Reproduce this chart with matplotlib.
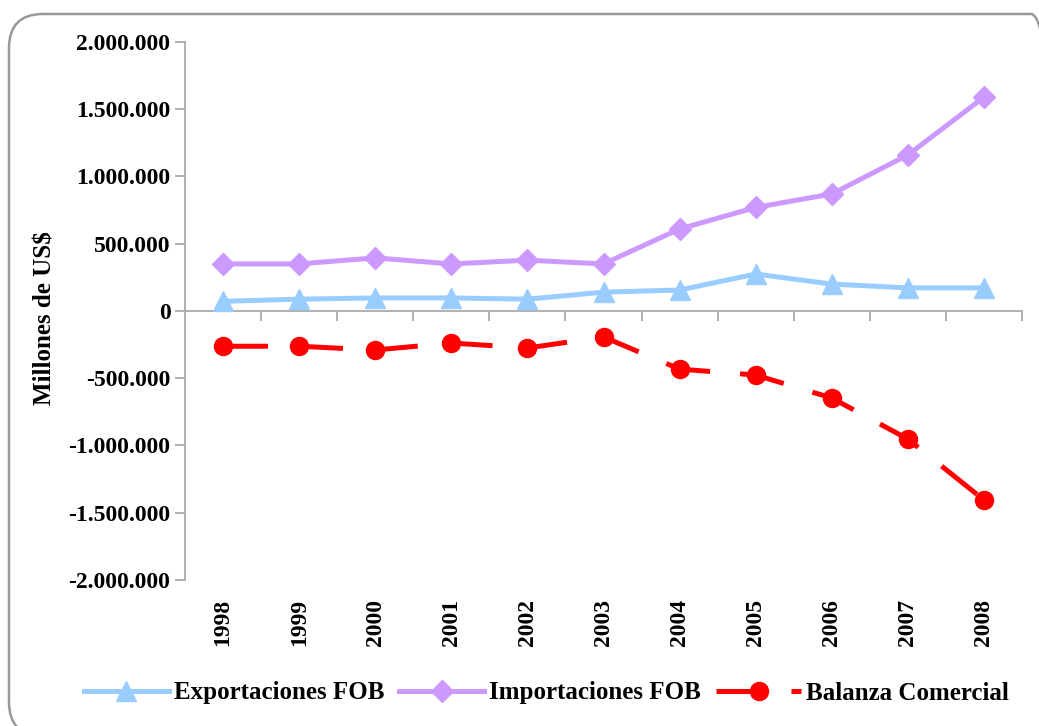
import matplotlib
matplotlib.use("Agg")
import matplotlib.pyplot as plt
import matplotlib.transforms as mtransforms
from matplotlib.patches import FancyBboxPatch
from matplotlib.ticker import FuncFormatter

YEARS = ["1998", "1999", "2000", "2001", "2002", "2003", "2004", "2005", "2006", "2007", "2008"]
EXPORTS = [72000, 88000, 97000, 97000, 88000, 140000, 156000, 275000, 200000, 172000, 172000]
IMPORTS = [350000, 350000, 395000, 350000, 378000, 350000, 610000, 770000, 870000, 1160000, 1590000]
BALANCE = [-262000, -262000, -290000, -238000, -275000, -193000, -432000, -476000, -647000, -952000, -1405000]
Y_TICKS = [-2000000, -1500000, -1000000, -500000, 0, 500000, 1000000, 1500000, 2000000]

FONT = "Liberation Serif"
GREY = "#aaaaaa"

W, H = 1039, 726
fig = plt.figure(figsize=(W / 100, H / 100), dpi=100)

# rounded chart frame in pixel units, clipped on the right and bottom
frame = FancyBboxPatch((9, H - 736), 1056, 722,
                       boxstyle="round,pad=0,rounding_size=34",
                       transform=mtransforms.IdentityTransform(), facecolor="none",
                       edgecolor="#999999", linewidth=1.8, clip_on=False)
fig.patches.append(frame)

ax = fig.add_axes([185 / W, 1 - 580 / H, (1022 - 185) / W, (580 - 42) / H])
x = list(range(len(YEARS)))

ax.plot(x, EXPORTS, color="#99ccff", linewidth=3.6, marker="^", markersize=14,
        label="Exportaciones FOB", zorder=3)
ax.plot(x, IMPORTS, color="#cc99ff", linewidth=3.6, marker="D", markersize=11,
        label="Importaciones FOB", zorder=3)
ax.plot(x, BALANCE, color="#ff0000", linewidth=3.6, marker="o", markersize=13,
        dashes=(9, 6), label="Balanza Comercial", zorder=3)

ax.set_xlim(-0.5, len(YEARS) - 0.5)
ax.set_ylim(-2000000, 2000000)
ax.set_yticks(Y_TICKS)
ax.yaxis.set_major_formatter(FuncFormatter(lambda v, p: f"{int(v):,}".replace(",", ".")))
ax.set_xticks([i + 0.5 for i in x])
ax.set_xticklabels([])

for side in ("top", "right"):
    ax.spines[side].set_visible(False)
ax.spines["bottom"].set_position(("data", 0))
for side in ("left", "bottom"):
    ax.spines[side].set_color(GREY)
    ax.spines[side].set_linewidth(1.3)
ax.tick_params(axis="both", direction="out", length=7, color=GREY, width=1.3)
for lbl in ax.get_yticklabels():
    lbl.set_fontfamily(FONT)
    lbl.set_fontweight("bold")
    lbl.set_fontsize(17)

# year labels below the plot area
trans = mtransforms.blended_transform_factory(ax.transData, ax.transAxes)
for i, yr in zip(x, YEARS):
    ax.text(i, -0.035, yr, transform=trans, rotation=90, ha="center", va="top",
            fontfamily=FONT, fontweight="bold", fontsize=17)

fig.text(45 / W, 1 - 318 / H, "Millones de US$", rotation=90, ha="center", va="center",
         fontfamily=FONT, fontweight="bold", fontsize=18)

leg = fig.legend(loc="center", bbox_to_anchor=(0.526, 1 - 693 / H), ncol=3,
                 frameon=False, handlelength=3.4, columnspacing=0.6, handletextpad=0.2,
                 prop={"family": FONT, "weight": "bold", "size": 18})

fig.savefig("out.png", dpi=100)
